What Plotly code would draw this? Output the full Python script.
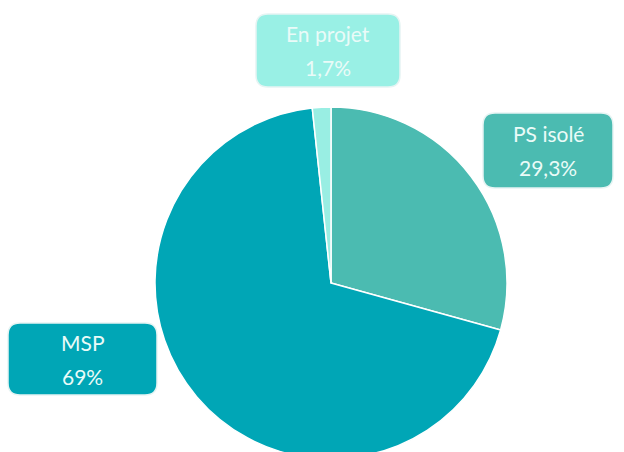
import plotly.graph_objects as go

labels = ["PS isolé", "MSP", "En projet"]
values = [29.3, 69.0, 1.7]
value_texts = ["29,3%", "69%", "1,7%"]
colors = ["#4BBBB1", "#00A6B6", "#99EEE3"]
box_colors = ["#4BBBB1", "#00A6B6", "#99F0E5"]

W, H = 624, 470

fig = go.Figure(go.Pie(
    labels=labels, values=values, sort=False, direction="clockwise", rotation=0,
    marker=dict(colors=colors, line=dict(color="white", width=1.5)),
    textinfo="none", hoverinfo="label+percent", showlegend=False,
    domain=dict(x=[155 / W, 507 / W], y=[11 / H, 363 / H]),
))

# label box geometry in pixels (x0, x1, y0, y1) from top-left
boxes = [(483, 613, 113, 188), (8, 157, 323, 395), (256, 400, 14, 87)]

def rrect(x0, x1, y0, y1, r=12):
    px = lambda x: x / W
    py = lambda y: 1 - y / H
    return (f"M {px(x0 + r)} {py(y0)} L {px(x1 - r)} {py(y0)} "
            f"Q {px(x1)} {py(y0)} {px(x1)} {py(y0 + r)} "
            f"L {px(x1)} {py(y1 - r)} Q {px(x1)} {py(y1)} {px(x1 - r)} {py(y1)} "
            f"L {px(x0 + r)} {py(y1)} Q {px(x0)} {py(y1)} {px(x0)} {py(y1 - r)} "
            f"L {px(x0)} {py(y0 + r)} Q {px(x0)} {py(y0)} {px(x0 + r)} {py(y0)} Z")

shapes = []
annotations = []
font = dict(family="Lato, Open Sans, sans-serif", size=21, color="#EAFBF8")
for lab, vt, bc, (x0, x1, y0, y1) in zip(labels, value_texts, box_colors, boxes):
    shapes.append(dict(type="path", xref="paper", yref="paper", path=rrect(x0, x1, y0, y1),
                       fillcolor=bc, line=dict(color="#E6F4F3", width=1.5), layer="above"))
    cx = (x0 + x1) / 2
    cy = (y0 + y1) / 2
    for txt, dy in ((lab, -17), (vt, 17)):
        annotations.append(dict(text=txt, x=cx / W, y=1 - (cy + dy) / H, xref="paper", yref="paper",
                                showarrow=False, xanchor="center", yanchor="middle", font=font))

fig.update_layout(
    width=W, height=H, margin=dict(l=0, r=0, t=0, b=0),
    paper_bgcolor="white", plot_bgcolor="white",
    shapes=shapes, annotations=annotations,
)

fig.write_html("out.html", config={"displayModeBar": False},
               post_script="document.body.style.margin='0';document.body.style.overflow='hidden';document.documentElement.style.overflow='hidden';")
